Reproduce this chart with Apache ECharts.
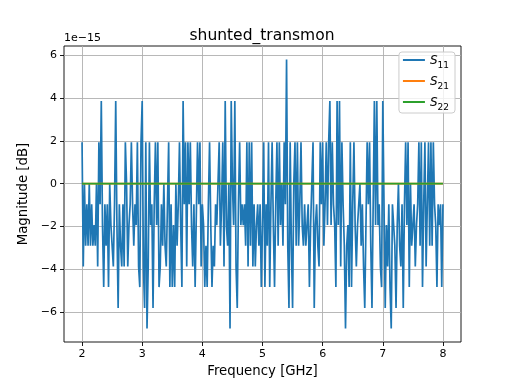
<!DOCTYPE html>
<html>
<head>
<meta charset="utf-8">
<script src="https://cdn.jsdelivr.net/npm/echarts@6/dist/echarts.min.js"></script>
<style>html,body{margin:0;padding:0;background:#fff}#c{width:512px;height:384px}</style>
</head>
<body>
<div id="c"></div>
<script>
// Frequency sweep definition (GHz)
const freqStart = 2.0;
const freqStep = 0.02;
// S11 magnitude in units of 1e-15 dB
const s11 = [
 1.93, -3.86, 0, -2.89, -0.96, -2.89, 0, -2.89, -0.96, -2.89,
 -1.93, -2.89, 0, -3.86, 1.93, -0.96, 3.86, -1.93, -4.82, -0.96,
 -2.89, -0.96, -4.82, 0, -1.93, -2.89, -3.86, -0.96, 3.86, -1.93,
 -5.79, -0.96, -2.89, -3.86, -0.96, -3.86, 1.93, 0, -3.86, -1.93,
 -0.96, 1.93, -0.96, -2.89, -0.96, -1.93, 1.93, -3.86, -4.82, 1.93,
 3.86, -3.86, -5.79, 1.93, -6.75, -3.86, 1.93, -1.93, -0.96, -5.79,
 -0.96, 1.93, -1.93, 1.93, -4.82, -3.86, -0.96, -2.89, 0, -2.89,
 -3.86, -0.96, 1.93, -4.82, -0.96, -4.82, -1.93, -4.82, 0, -2.89,
 -0.96, 1.93, -1.93, -4.82, 3.86, -0.96, 1.93, -3.86, 1.93, -0.96,
 1.93, -1.93, -3.86, -0.96, -4.82, -4.82, 1.93, -0.96, 1.93, -3.86,
 -0.96, -1.93, -4.82, -2.89, -4.82, -0.96, 1.93, -1.93, -4.82, -2.89,
 -3.86, -0.96, -1.93, 0, 1.93, -2.89, -0.96, 1.93, -3.86, 3.86,
 -1.93, -2.89, 0, -6.75, 3.86, 0, -1.93, 3.86, -3.86, -5.79,
 -0.96, 1.93, -1.93, -0.96, -1.93, -0.96, -2.89, 1.93, -3.86, 1.93,
 -2.89, 1.93, -3.86, -0.96, -3.86, -1.93, -0.96, -2.89, -0.96, -4.82,
 -1.93, 1.93, -4.82, -0.96, -2.89, 1.93, -4.82, -0.96, 1.93, -1.93,
 -4.82, -0.96, 1.93, -2.89, 1.93, -1.93, 0, -2.89, 1.93, -0.96,
 5.79, -2.89, -5.79, 1.93, -2.89, -5.79, 0, 1.93, -2.89, 1.93,
 -2.89, -0.96, 1.93, -1.93, -2.89, -0.96, -2.89, -1.93, -0.96, -4.82,
 -1.93, 0, 1.93, -5.79, -1.93, -0.96, -2.89, -3.86, 1.93, -0.96,
 1.93, -2.89, -0.96, 1.93, -1.93, 1.93, 3.86, -1.93, 1.93, -0.96,
 -1.93, -4.82, 3.86, -1.93, 3.86, -3.86, 1.93, -0.96, -2.89, -6.75,
 -2.89, -1.93, -4.82, 1.93, -4.82, -0.96, 1.93, -1.93, -3.86, -1.93,
 -0.96, 0, -2.89, -0.96, -3.86, -5.79, -1.93, 1.93, -0.96, 1.93,
 -2.89, -5.79, -0.96, 3.86, -1.93, 3.86, -1.93, -0.96, -3.86, -4.82,
 3.86, -0.96, -5.79, -1.93, -3.86, -0.96, -4.82, -6.75, -0.96, -1.93,
 -2.89, -5.79, -1.93, 0, -2.89, -3.86, -0.96, -5.79, -0.96, 1.93,
 -1.93, 1.93, -4.82, 0, -2.89, -1.93, -0.96, -3.86, -1.93, -0.96,
 1.93, -2.89, 1.93, -4.82, -0.96, 1.93, -3.86, -0.96, 1.93, -2.89,
 1.93, -2.89, 1.93, -0.96, -1.93, -4.82, -0.96, -1.93, -0.96, -4.82,
 -0.96
];
// S21 and S22 are identically zero over the sweep
const s21Freq = [2.0, 8.0];
const s21 = [0, 0];
const s22Freq = [2.0, 8.0];
const s22 = [0, 0];
const xTicks = [2, 3, 4, 5, 6, 7, 8];
const yTicks = [-6, -4, -2, 0, 2, 4, 6];
const seriesNames = ['S11', 'S21', 'S22'];

const s11Data = s11.map((v, i) => [+(freqStart + i * freqStep).toFixed(4), v]);
const s21Data = s21Freq.map((f, i) => [f, s21[i]]);
const s22Data = s22Freq.map((f, i) => [f, s22[i]]);

const FONT = 'DejaVu Sans';
const minus = v => String(v).replace('-', '\u2212');
const chart = echarts.init(document.getElementById('c'), null, {renderer: 'canvas'});
const axisCommon = {
  axisLine: {show: false, onZero: false},
  axisTick: {show: true, length: 4, lineStyle: {color: '#000', width: 0.9}},
  splitLine: {show: true, lineStyle: {color: '#b0b0b0', width: 0.9}},
  axisLabel: {color: '#000', fontFamily: FONT, fontSize: 11},
  nameTextStyle: {color: '#000', fontFamily: FONT, fontSize: 13.3}
};
chart.setOption({
  animation: false,
  textStyle: {fontFamily: FONT},
  grid: {left: 64, right: 51, top: 46, bottom: 42, show: true, borderColor: '#000', borderWidth: 0.9, backgroundColor: 'transparent', outerBoundsMode: 'none', containLabel: false},
  xAxis: Object.assign({}, axisCommon, {
    type: 'value', min: 1.7, max: 8.3,
    name: 'Frequency [GHz]', nameLocation: 'middle', nameGap: 21,
    axisTick: Object.assign({}, axisCommon.axisTick, {customValues: xTicks}),
    axisLabel: Object.assign({}, axisCommon.axisLabel, {customValues: xTicks, margin: 7, formatter: minus}),
  }),
  yAxis: Object.assign({}, axisCommon, {
    type: 'value', min: -7.38, max: 6.42,
    name: 'Magnitude [dB]', nameLocation: 'middle', nameGap: 30,
    axisTick: Object.assign({}, axisCommon.axisTick, {customValues: yTicks}),
    axisLabel: Object.assign({}, axisCommon.axisLabel, {customValues: yTicks, margin: 7, formatter: minus}),
  }),
  legend: {
    orient: 'vertical', right: 57, top: 52,
    data: seriesNames,
    icon: 'rect', itemWidth: 22, itemHeight: 2, itemGap: 6,
    padding: [3, 6, 1, 4],
    backgroundColor: 'rgba(255,255,255,0.8)',
    borderColor: '#cccccc', borderWidth: 1, borderRadius: 3,
    formatter: function (n) { return '{s|S}{sub|' + n.slice(1) + '}'; },
    textStyle: {
      color: '#000',
      rich: {
        s: {fontFamily: FONT, fontStyle: 'italic', fontSize: 12, lineHeight: 14, verticalAlign: 'bottom'},
        sub: {fontFamily: FONT, fontSize: 9, lineHeight: 14, verticalAlign: 'bottom', padding: [0, 0, -3, 0]}
      }
    }
  },
  graphic: [
    {type: 'text', x: 262, y: 28, style: {text: 'shunted_transmon', font: '15.5px "DejaVu Sans"', fill: '#000', textAlign: 'center', textVerticalAlign: 'top'}},
    {type: 'text', x: 64, y: 33, style: {text: '1e\u221215', font: '11px "DejaVu Sans"', fill: '#000'}}
  ],
  series: [
    {name: 'S11', type: 'line', data: s11Data, showSymbol: false, symbol: 'none', lineStyle: {color: '#1f77b4', width: 1.7}, itemStyle: {color: '#1f77b4'}, z: 3},
    {name: 'S21', type: 'line', data: s21Data, showSymbol: false, symbol: 'none', lineStyle: {color: '#ff7f0e', width: 1.7}, itemStyle: {color: '#ff7f0e'}, z: 4},
    {name: 'S22', type: 'line', data: s22Data, showSymbol: false, symbol: 'none', lineStyle: {color: '#2ca02c', width: 1.7}, itemStyle: {color: '#2ca02c'}, z: 5}
  ]
});
</script>
</body>
</html>
